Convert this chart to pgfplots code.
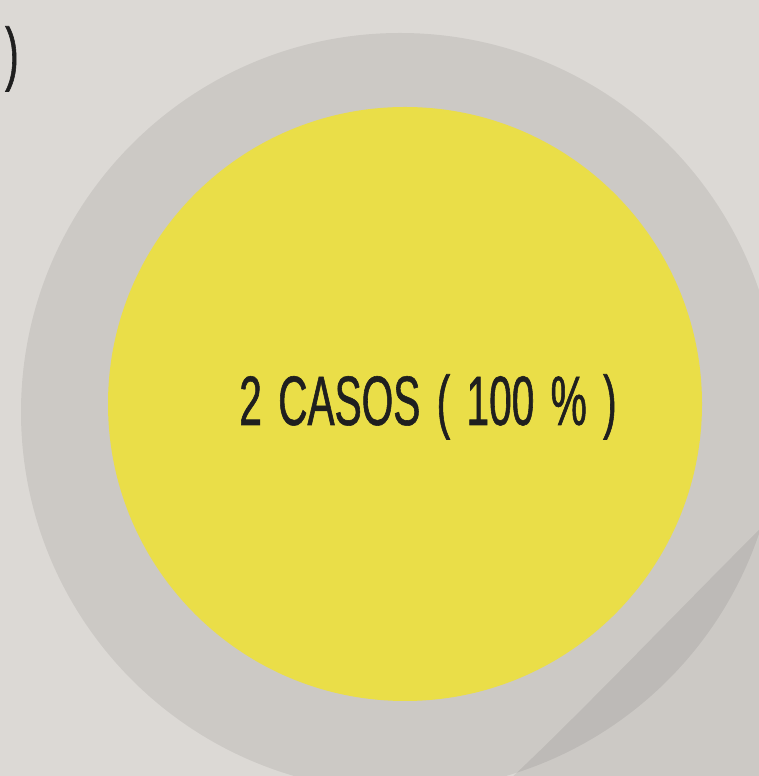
\documentclass[border=0pt]{standalone}
\usepackage{pgfplots}
\pgfplotsset{compat=1.18}
\usepackage{fontspec}
\newfontfamily\cond[FakeStretch=0.58, FakeBold=0.8, WordSpace=1.45]{Liberation Sans}
\definecolor{bgc}{HTML}{DCD9D5}
\definecolor{pieyellow}{HTML}{EADE48}
\definecolor{txt}{HTML}{1F1F1F}
% pie data: one slice
\def\casos{2}
\def\pct{100}
\begin{document}
\begin{tikzpicture}
\path[use as bounding box] (0,0) rectangle (759bp,776bp);
\begin{axis}[
  at={(0,0)}, anchor=south west,
  width=759bp, height=776bp, scale only axis,
  xmin=0, xmax=759, ymin=0, ymax=776,
  hide axis, clip=true,
]
\fill[bgc] (axis cs:-5,-5) rectangle (axis cs:765,781);
% halo circle
\fill[black, opacity=0.07] (axis cs:400,364) circle[radius=379];
% shading band bottom right
\fill[black, opacity=0.07] (axis cs:775,262) .. controls (axis cs:690,178) and (axis cs:580,62) .. (axis cs:508,-5) -- (axis cs:775,-5) -- cycle;
% single pie slice (100 %)
\fill[pieyellow] (axis cs:405,372) circle[radius=297];
\node[anchor=base, inner sep=0, text=txt, font=\cond\fontsize{70bp}{84bp}\selectfont] at (axis cs:428,351) {\casos\ CASOS ( \pct\ \% )};
\node[anchor=base west, inner sep=0, text=txt, font=\cond\fontsize{70bp}{84bp}\selectfont] at (axis cs:5,699) {)};
\end{axis}
\end{tikzpicture}
\end{document}
